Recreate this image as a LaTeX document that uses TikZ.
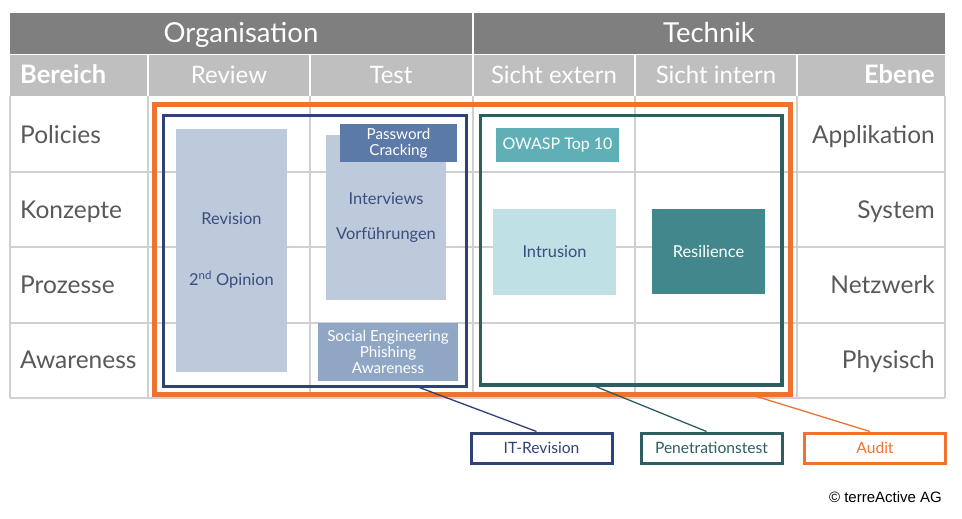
\documentclass[tikz,border=0pt]{standalone}
\usepackage{fontspec}
\setmainfont{Lato}
\newfontfamily\arialfont{Liberation Sans}
\usepackage{xcolor}
\usepackage{tikz}

\definecolor{hdrdark}{HTML}{7F7F7F}
\definecolor{hdrlight}{HTML}{BFBFBF}
\definecolor{gridgray}{HTML}{D0D0D0}
\definecolor{labgray}{HTML}{595959}
\definecolor{auditorange}{HTML}{EE7330}
\definecolor{itnavy}{HTML}{2F4276}
\definecolor{penteal}{HTML}{2E5E5F}
\definecolor{revfill}{HTML}{BDCADC}
\definecolor{pwfill}{HTML}{5B7AA8}
\definecolor{socfill}{HTML}{90A6C5}
\definecolor{owfill}{HTML}{5FB0B6}
\definecolor{intrfill}{HTML}{BFE0E5}
\definecolor{resfill}{HTML}{41878C}
\definecolor{boxtext}{HTML}{3B4D7E}

\begin{document}
\begin{tikzpicture}[x=1pt,y=-1pt,
  every node/.style={inner sep=0pt},
  head/.style={text=white,anchor=base,font=\fontsize{27.5}{32}\selectfont},
  subhead/.style={text=white,anchor=base,font=\fontsize{24}{28}\selectfont},
  subbold/.style={text=white,font=\fontsize{25.5}{30}\selectfont\bfseries},
  rowlab/.style={text=labgray,font=\fontsize{24.5}{29}\selectfont},
  frame/.style={draw,line width=#1},
  box/.style={align=center,font=\fontsize{16.4}{19}\selectfont},
  smallbox/.style={align=center,text=white,font=\fontsize{15.2}{16}\selectfont},
  legend/.style={draw=#1,text=#1,line width=3pt,minimum width=141pt,minimum height=30pt,
    font=\fontsize{15.6}{18}\selectfont}]
  \useasboundingbox (0,0) rectangle (962,519);
  % header rows
  \fill[hdrdark] (10,13) rectangle (945,54);
  \fill[hdrlight] (10,55) rectangle (945,96);
  \foreach \x in {148,310,635,797}
    \draw[white,line width=1.5pt] (\x,55) -- (\x,96);
  \draw[white,line width=1.5pt] (473,13) -- (473,96);
  % table body
  \foreach \y in {172,247,323,398}
    \draw[gridgray,line width=1.2pt] (10,\y) -- (945,\y);
  \foreach \x in {10,148,310,473,635,797,945}
    \draw[gridgray,line width=1.2pt] (\x,96) -- (\x,398);
  % header texts
  \node[head] (org) at (241,43) {Organisation};
  \node[head] (tech) at (709,43) {Technik};
  \node[subbold,anchor=base west] (bereich) at (20,84) {Bereich};
  \node[subhead] (review) at (229,83.5) {Review};
  \node[subhead] (test) at (391,83.5) {Test};
  \node[subhead] (extern) at (554,83.5) {Sicht extern};
  \node[subhead] (intern) at (716,83.5) {Sicht intern};
  \node[subbold,anchor=base east] (ebene) at (935,84) {Ebene};
  % row labels
  \node[rowlab,anchor=base west] (policies) at (20,143) {Policies};
  \node[rowlab,anchor=base west] (konzepte) at (20,218) {Konzepte};
  \node[rowlab,anchor=base west] (prozesse) at (20,293.5) {Prozesse};
  \node[rowlab,anchor=base west] (awareness) at (20,368.5) {Awareness};
  \node[rowlab,anchor=base east] (applikation) at (935,143) {Applikation};
  \node[rowlab,anchor=base east] (system) at (935,218) {System};
  \node[rowlab,anchor=base east] (netzwerk) at (935,293.5) {Netzwerk};
  \node[rowlab,anchor=base east] (physisch) at (935,368.5) {Physisch};
  % frames
  \node[frame=5pt,draw=auditorange,minimum width=636pt,minimum height=289pt] (auditframe) at (472.5,249.5) {};
  \node[frame=3.5pt,draw=itnavy,minimum width=303pt,minimum height=271pt] (itframe) at (315,251) {};
  \node[frame=3.5pt,draw=penteal,minimum width=301.5pt,minimum height=269.5pt] (penframe) at (631.25,250.25) {};
  % boxes Organisation
  \node[box,fill=revfill,text=boxtext,minimum width=111pt,minimum height=243pt] (revision) at (231.5,250.5)
    {Revision\\[42pt]2\textsuperscript{nd} Opinion};
  \node[box,fill=revfill,text=boxtext,minimum width=120pt,minimum height=165pt] (interviews) at (386,217.5)
    {Interviews\\[16pt]Vorführungen};
  \node[smallbox,fill=pwfill,minimum width=117pt,minimum height=38pt] (password) at (398.5,143)
    {Password\\Cracking};
  \node[smallbox,fill=socfill,minimum width=140pt,minimum height=58pt] (social) at (388,352)
    {Social Engineering\\Phishing\\Awareness};
  % boxes Technik
  \node[smallbox,fill=owfill,minimum width=123pt,minimum height=34pt,font=\fontsize{16}{18}\selectfont] (owasp) at (557.5,145)
    {OWASP Top 10};
  \node[box,fill=intrfill,text=boxtext,minimum width=123pt,minimum height=86pt] (intrusion) at (554.5,252) {Intrusion};
  \node[box,fill=resfill,text=white,minimum width=113pt,minimum height=85pt] (resilience) at (708.5,251.5) {Resilience};
  % legend
  \node[legend=itnavy] (itlabel) at (541.5,448) {IT-Revision};
  \node[legend=penteal] (penlabel) at (711.5,448) {Penetrationstest};
  \node[legend=auditorange] (auditlabel) at (875,448) {Audit};
  \coordinate (itfoot) at (418,387);
  \coordinate (penfoot) at (592,385);
  \coordinate (auditfoot) at (755,396);
  \draw[itnavy,line width=1.3pt] (itfoot) -- ([xshift=-5pt]itlabel.north);
  \draw[penteal,line width=1.3pt] (penfoot) -- ([xshift=-5pt]penlabel.north);
  \draw[auditorange,line width=1.3pt] (auditfoot) -- ([xshift=-5pt]auditlabel.north);
  \node[anchor=east,font=\arialfont\fontsize{15}{18}\selectfont] (copyright) at (942,497) {© terreActive AG};
\end{tikzpicture}
\end{document}
